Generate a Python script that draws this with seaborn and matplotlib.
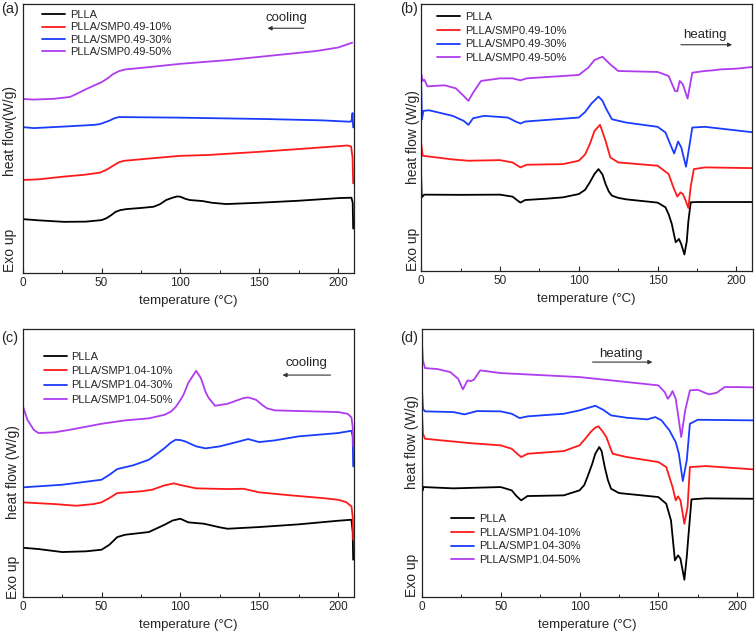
import pandas as pd
import matplotlib.pyplot as plt
import seaborn as sns

# DSC curves: temperature (°C) and heat flow (arbitrary offset units)
samples_049 = ['PLLA', 'PLLA/SMP0.49-10%', 'PLLA/SMP0.49-30%', 'PLLA/SMP0.49-50%']
samples_104 = ['PLLA', 'PLLA/SMP1.04-10%', 'PLLA/SMP1.04-30%', 'PLLA/SMP1.04-50%']
colors = ['#000000', '#ff1a1a', '#1a3cff', '#b03cf0']

# (a) cooling, SMP0.49
a_plla_T = [0, 10, 26, 40, 50, 53, 56, 59, 62, 66, 75, 83, 87, 91, 95, 98, 100, 103, 106, 110, 114, 120, 129, 150, 175, 201, 208.5, 209.3, 209.6]
a_plla_y = [53.7, 52.5, 51, 51.2, 52.7, 54.5, 57.5, 61, 62.7, 63.7, 64.8, 66, 68.5, 72.7, 75, 76.3, 76, 74, 72.7, 72.2, 71.7, 70, 68.7, 70, 72, 74.7, 75, 70, 44.3]
a_10_T = [0, 10, 26, 40, 49, 53, 57, 61, 64, 80, 100, 117, 150, 180, 206, 208.3, 209.2, 209.6]
a_10_y = [92.7, 93.3, 96, 98, 100, 102.7, 106.5, 110.3, 111.7, 114, 116.7, 117.5, 120.7, 124, 127, 126, 115, 89.3]
a_30_T = [0, 7, 28, 45, 49, 55, 58, 61, 80, 100, 155, 190, 207, 208.5, 209.2, 209.6]
a_30_y = [145.3, 144.3, 146, 147.5, 148.3, 151.7, 154, 155.3, 155, 154.7, 153.3, 152, 150.7, 151, 159.3, 145]
a_50_T = [0, 7, 20, 30, 35, 40.5, 45, 50, 54, 57, 61, 65, 80, 100, 130, 155, 186, 200, 209]
a_50_y = [173.3, 172.7, 173.5, 175.3, 179, 183.3, 186.5, 190, 194, 197.7, 201, 202.7, 205, 208.3, 212, 216, 221, 224.5, 229.3]

# (b) heating, SMP0.49
b_plla_T = [0, 0.4, 2, 25, 50, 58, 61, 63, 66, 80, 90, 100, 104, 107, 110, 112.5, 115, 117, 119, 121, 125, 130, 150, 155, 157, 159, 160.5, 161.5, 162.5, 163.5, 165, 167, 168.5, 169.5, 171, 175, 210]
b_plla_y = [97.3, 74, 76.7, 76.5, 76.7, 74.7, 71, 68.7, 71.3, 72.7, 74, 77.3, 81.5, 89, 97.5, 102.3, 97, 87.3, 80, 75.7, 73.5, 72, 68.7, 64, 57, 47.3, 36, 29, 30.5, 32.3, 27, 16.7, 30, 50, 69, 69.3, 69.3]
b_10_T = [0, 1, 20, 30, 50, 58, 63, 67, 90, 100, 104, 107, 110, 113.5, 117, 120, 125, 150, 157, 160, 162.5, 164.5, 166, 167.5, 169.5, 171, 173, 180, 210]
b_10_y = [129, 115.7, 112, 110.7, 111.3, 109, 104, 106.7, 107.3, 110.7, 117, 127.3, 140.7, 146.7, 130.7, 114, 109, 105.7, 97.3, 84, 74.7, 79, 77.3, 72, 63.3, 85, 102.3, 104, 103.3]
b_30_T = [0, 0.5, 1.5, 5, 20, 27, 30, 33, 40, 55, 60, 63, 66, 100, 104, 108, 112.5, 115, 117, 121, 130, 150, 155, 158, 160.5, 163, 165, 168, 170, 172, 180, 210]
b_30_y = [192, 152.3, 160.7, 161.3, 155.7, 150.7, 146.7, 153.3, 155.7, 154, 150, 148, 150, 154, 159.5, 168, 175, 171, 164, 152.3, 149, 144.7, 139, 127.3, 118, 130, 124, 104.7, 124, 144, 144.7, 139.3]
b_50_T = [0, 1, 2, 4, 15, 22, 27, 30, 33, 38, 50, 58, 63, 67, 100, 106, 110, 115, 120, 125, 150, 157, 161, 162.5, 164, 166, 169, 172, 180, 185, 190, 200, 210]
b_50_y = [199, 190.7, 192, 185.3, 186.3, 183.3, 175.7, 170.7, 179, 190.7, 193.3, 193.3, 191.3, 193.3, 196.7, 204, 211.7, 215, 207.3, 200.7, 199.7, 195.7, 180.7, 180.3, 190.7, 187.3, 173, 199, 200.7, 201.3, 202.3, 203, 204.7]

# (c) cooling, SMP1.04
c_plla_T = [0, 10, 25, 40, 50, 55, 60, 65, 80, 90, 95, 100, 105, 115, 125, 130, 150, 175, 200, 208.5, 209.3, 209.6]
c_plla_y = [49.3, 48, 45, 45.7, 47.3, 52.3, 60, 62.3, 65, 72.3, 76.5, 78.3, 74.7, 73.3, 69.7, 68.3, 70, 72.7, 76.3, 77.3, 65, 37.3]
c_10_T = [0, 20, 34, 45, 50, 55, 60, 75, 82, 90, 96, 100, 110, 130, 140, 150, 170, 190, 200, 205, 208.5, 209.3, 209.6]
c_10_y = [94.7, 93, 91.3, 93, 94.7, 99, 104, 105.7, 107.3, 111.7, 113.7, 112, 108.7, 108, 108.3, 104.7, 101.7, 99, 97.3, 95, 90.7, 80, 57.3]
c_30_T = [0, 25, 50, 55, 60, 70, 80, 85, 90, 94, 97, 100, 103, 110, 116, 125, 135, 143, 150, 160, 175, 200, 208.5, 209.3, 209.6]
c_30_y = [109.7, 112.3, 117.3, 122.3, 128, 131.7, 137.3, 143, 149, 154.5, 157.3, 157, 155.7, 150.7, 148.7, 150.7, 154.7, 158, 155, 156.7, 160.7, 164, 166.3, 160, 130.7]
c_50_T = [0, 3, 7, 10, 20, 30, 50, 65, 80, 90, 94, 97, 100, 102, 105, 107, 110, 113, 116, 118, 122, 130, 140, 143, 148, 152, 155, 160, 200, 206, 208.5, 209.3, 209.6]
c_50_y = [191.3, 177.3, 167.3, 164, 164.7, 167.3, 173.3, 176.7, 178.7, 182.3, 185.5, 190, 197, 202.3, 214, 219, 226.3, 219, 205, 199, 191.3, 193.3, 199, 199.7, 197.3, 192, 188.7, 186.7, 185, 183.3, 179.7, 170, 150.7]

# (d) heating, SMP1.04
d_plla_T = [0, 0.3, 1, 20, 50, 57, 60, 63, 67, 90, 100, 103, 105, 108, 110, 112.5, 114, 116, 118, 120, 125, 150, 155, 158, 160.5, 162.5, 164, 166.5, 168, 169, 171, 180, 210]
d_plla_y = [163.3, 106, 110, 108.7, 110, 106.7, 101, 96.7, 101, 101.7, 106.7, 112, 120, 133, 143.3, 150, 146, 130, 117, 108.3, 104, 100, 93.3, 76.7, 36.7, 41.7, 38.3, 17.3, 40, 60, 97.7, 98.7, 98.3]
d_10_T = [0, 0.7, 2, 30, 50, 57, 60, 63, 67, 90, 100, 104, 107, 110, 112, 114.5, 117, 119, 121, 130, 150, 155, 159, 161, 162.5, 164, 166.5, 168.5, 170, 180, 210]
d_10_y = [186.7, 163.3, 158.3, 154, 151.7, 148.3, 144, 140, 143.3, 146, 151.7, 159, 165, 169.5, 170.7, 166, 160, 151.5, 143.3, 140, 135, 130, 110, 96.7, 100.7, 96.7, 73.3, 90, 130, 131, 127.7]
d_30_T = [0, 0.7, 2, 20, 27, 35, 50, 57, 62, 67, 90, 100, 105, 110, 115, 120, 130, 143, 148, 152, 157, 161, 163, 165.5, 168, 170, 175, 210]
d_30_y = [210, 188.3, 185.7, 185, 182.7, 186, 185.7, 183.3, 179, 180.7, 183.3, 186.7, 189, 191.3, 187.3, 181.7, 179.3, 177.7, 180, 176.7, 166.7, 155, 143.3, 116, 136.7, 173.3, 177.3, 176.7]
d_50_T = [0, 0.7, 2, 10, 18, 23, 26, 29, 31, 33, 37, 50, 100, 120, 150, 154, 156, 157.5, 159, 161, 163, 164.5, 167, 170, 175, 182, 187, 192, 200, 210]
d_50_y = [256, 236.7, 229, 228, 225, 218.3, 207.7, 216.7, 216, 217.3, 226.7, 224, 220, 216.7, 211.7, 205, 198.3, 201.5, 206, 198.3, 176.7, 160, 186.7, 206.7, 207.3, 202.7, 204.3, 210, 210, 209.7]

panels = [
    ('(a)', (0.002, 0.997), samples_049, [(a_plla_T, a_plla_y), (a_10_T, a_10_y), (a_30_T, a_30_y), (a_50_T, a_50_y)],
     [0.030, 0.574, 0.438, 0.420], 'cooling', 167, 254, (180, 153.5, 243.7), (0.035, 1.005), 0.2,
     'heat flow(W/g)', -0.038, 0.528, 0.085),
    ('(b)', (0.529, 0.997), samples_049, [(b_plla_T, b_plla_y), (b_10_T, b_10_y), (b_30_T, b_30_y), (b_50_T, b_50_y)],
     [0.557, 0.577, 0.438, 0.417], 'heating', 180, 237, (163, 199, 227), (0.025, 1.0), 0.35,
     'heat flow (W/g)', -0.024, 0.50, 0.08),
    ('(c)', (0.002, 0.484), samples_104, [(c_plla_T, c_plla_y), (c_10_T, c_10_y), (c_30_T, c_30_y), (c_50_T, c_50_y)],
     [0.030, 0.0686, 0.438, 0.418], 'cooling', 180, 234, (197, 163, 222), (0.04, 0.945), 0.4,
     'heat flow (W/g)', -0.028, 0.466, 0.075),
    ('(d)', (0.529, 0.484), samples_104, [(d_plla_T, d_plla_y), (d_10_T, d_10_y), (d_30_T, d_30_y), (d_50_T, d_50_y)],
     [0.558, 0.0686, 0.438, 0.418], 'heating', 126, 243, (106.5, 148, 235), (0.065, 0.34), 0.35,
     'heat flow (W/g)', -0.03, 0.578, 0.082),
]

sns.set_style('ticks')
plt.rcParams['font.family'] = ['Liberation Sans', 'DejaVu Sans']

fig = plt.figure(figsize=(7.56, 6.41), dpi=100)

for (tag, tag_pos, names, curves, rect, note, note_x, note_y, arrow, leg_pos, leg_gap,
     ylab, ylab_x, ylab_y, exo_y) in panels:
    ax = fig.add_axes(rect)
    for (T, y), name, col in zip(curves, names, colors):
        df = pd.DataFrame({'T': T, 'hf': y})
        sns.lineplot(data=df, x='T', y='hf', color=col, lw=1.3, sort=False,
                     estimator=None, label=name, ax=ax)
    ax.set_xlim(0, 210)
    ax.set_ylim(0, 268)
    ax.set_xticks([0, 50, 100, 150, 200])
    ax.set_xticks([25, 75, 125, 175], minor=True)
    ax.set_yticks([])
    ax.tick_params(axis='x', direction='in', length=3.5, width=0.8, labelsize=8.5, pad=3)
    ax.tick_params(axis='x', which='minor', direction='in', length=2, width=0.7)
    for sp in ax.spines.values():
        sp.set_visible(True)
        sp.set_linewidth(0.9)
        sp.set_color('#222222')
    ax.set_xlabel('temperature (\u00b0C)', fontsize=9.5, labelpad=4)
    ax.set_ylabel('')
    ax.legend(loc='upper left', bbox_to_anchor=leg_pos, frameon=False, fontsize=8,
              handlelength=2.1, handletextpad=0.4, labelspacing=leg_gap, borderpad=0.2)
    fig.text(tag_pos[0], tag_pos[1], tag, fontsize=10.5, ha='left', va='top')
    ax.text(note_x, note_y, note, fontsize=9.5, ha='center', va='center')
    ax.annotate('', xy=(arrow[1], arrow[2]), xytext=(arrow[0], arrow[2]),
                arrowprops=dict(arrowstyle='-|>', color='#333333', lw=0.8, mutation_scale=6))
    ax.text(ylab_x, ylab_y, ylab, transform=ax.transAxes, rotation=90, fontsize=10,
            ha='center', va='center')
    ax.text(ylab_x, exo_y, 'Exo up', transform=ax.transAxes, rotation=90, fontsize=10,
            ha='center', va='center')

plt.savefig('out.png', dpi=100)
